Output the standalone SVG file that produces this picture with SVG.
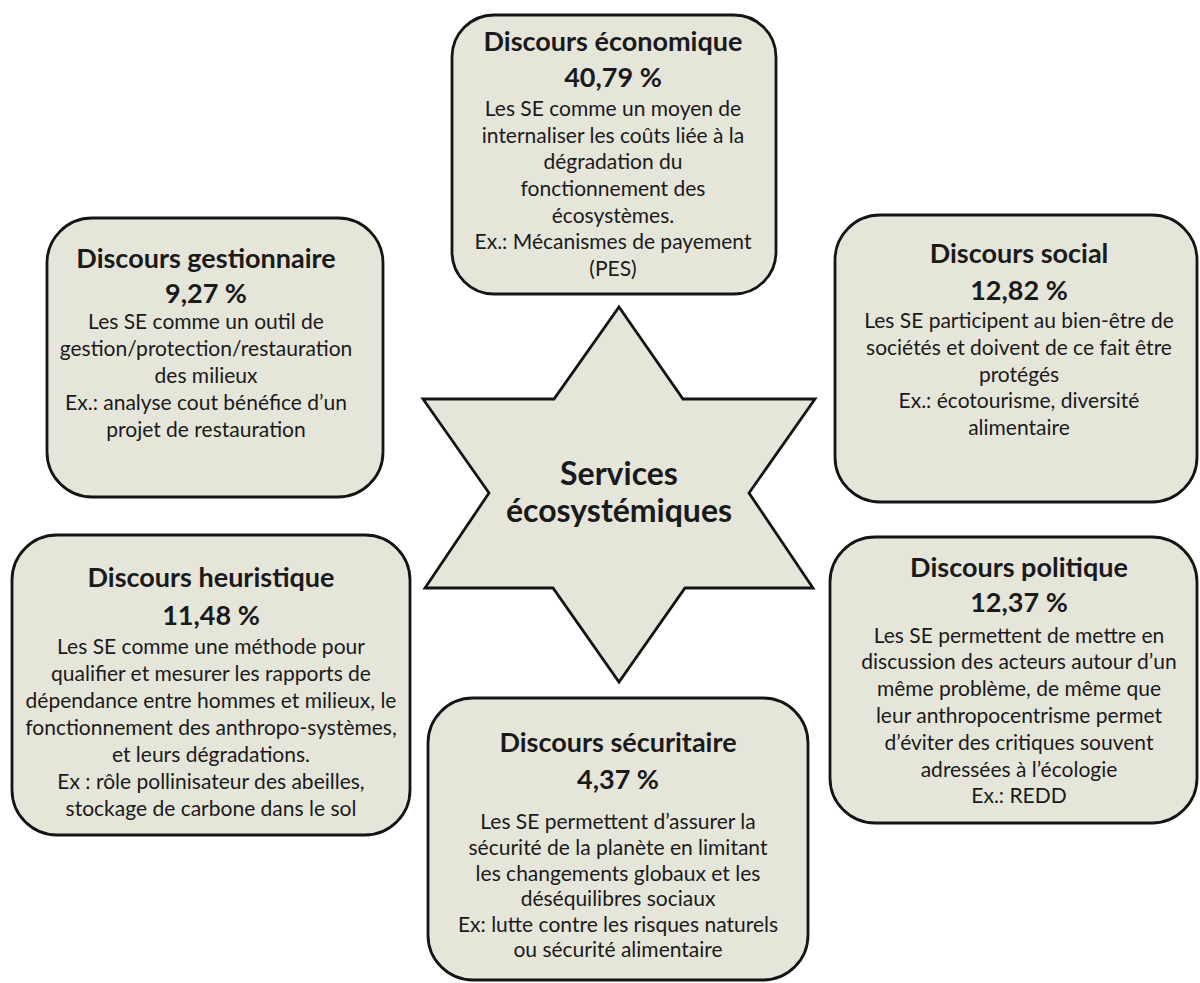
<svg xmlns="http://www.w3.org/2000/svg" width="1200" height="983" viewBox="0 0 1200 983">
<style>
.box{fill:#e6e5da;stroke:#141414;stroke-width:2.8}
.t{font-family:Lato,"Liberation Sans",sans-serif;fill:#1a1a1a;text-anchor:middle}
.h{font-weight:bold;font-size:27px}
.b{font-size:21px}
.c{font-weight:bold;font-size:32px}
</style>
<rect width="1200" height="983" fill="#ffffff"/>
<g id="connectors"></g>
<g id="center">
<polygon class="box" points="619,307 683,399 815,399 749,493 813,588 685,588 619,682 553,588 425,588 489,493 423,399 554,399"/>
<text class="t c" x="619" y="485">Services</text>
<text class="t c" x="619" y="522">écosystémiques</text>
</g>
<g id="economique">
<rect class="box" x="452" y="15" width="324" height="279" rx="42"/>
<text class="t h" x="613" y="51">Discours économique</text>
<text class="t h" x="613" y="87">40,79 %</text>
<text class="t b" x="613" y="116">Les SE comme un moyen de</text>
<text class="t b" x="613" y="143">internaliser les coûts liée à la</text>
<text class="t b" x="613" y="169">dégradation du</text>
<text class="t b" x="613" y="196">fonctionnement des</text>
<text class="t b" x="613" y="223">écosystèmes.</text>
<text class="t b" x="613" y="249">Ex.: Mécanismes de payement</text>
<text class="t b" x="613" y="276">(PES)</text>
</g>
<g id="gestionnaire">
<rect class="box" x="47" y="218" width="336" height="279" rx="45"/>
<text class="t h" x="206" y="268">Discours gestionnaire</text>
<text class="t h" x="206" y="303">9,27 %</text>
<text class="t b" x="206" y="329">Les SE comme un outil de</text>
<text class="t b" x="206" y="356">gestion/protection/restauration</text>
<text class="t b" x="206" y="383">des milieux</text>
<text class="t b" x="206" y="410">Ex.: analyse cout bénéfice d’un</text>
<text class="t b" x="206" y="437">projet de restauration</text>
</g>
<g id="social">
<rect class="box" x="835" y="215" width="362" height="287" rx="45"/>
<text class="t h" x="1019" y="263">Discours social</text>
<text class="t h" x="1019" y="300">12,82 %</text>
<text class="t b" x="1019" y="328">Les SE participent au bien-être de</text>
<text class="t b" x="1019" y="355">sociétés et doivent de ce fait être</text>
<text class="t b" x="1019" y="382">protégés</text>
<text class="t b" x="1019" y="408">Ex.: écotourisme, diversité</text>
<text class="t b" x="1019" y="435">alimentaire</text>
</g>
<g id="heuristique">
<rect class="box" x="12" y="535" width="398" height="300" rx="45"/>
<text class="t h" x="211" y="587">Discours heuristique</text>
<text class="t h" x="211" y="625">11,48 %</text>
<text class="t b" x="211" y="654">Les SE comme une méthode pour</text>
<text class="t b" x="211" y="681">qualifier et mesurer les rapports de</text>
<text class="t b" x="211" y="708">dépendance entre hommes et milieux, le</text>
<text class="t b" x="211" y="735">fonctionnement des anthropo-systèmes,</text>
<text class="t b" x="211" y="762">et leurs dégradations.</text>
<text class="t b" x="211" y="789">Ex : rôle pollinisateur des abeilles,</text>
<text class="t b" x="211" y="816">stockage de carbone dans le sol</text>
</g>
<g id="politique">
<rect class="box" x="830" y="537" width="367" height="286" rx="45"/>
<text class="t h" x="1019" y="577">Discours politique</text>
<text class="t h" x="1019" y="612">12,37 %</text>
<text class="t b" x="1019" y="643">Les SE permettent de mettre en</text>
<text class="t b" x="1019" y="669">discussion des acteurs autour d’un</text>
<text class="t b" x="1019" y="696">même problème, de même que</text>
<text class="t b" x="1019" y="723">leur anthropocentrisme permet</text>
<text class="t b" x="1019" y="750">d’éviter des critiques souvent</text>
<text class="t b" x="1019" y="777">adressées à l’écologie</text>
<text class="t b" x="1019" y="803">Ex.: REDD</text>
</g>
<g id="securitaire">
<rect class="box" x="428" y="698" width="380" height="282" rx="45"/>
<text class="t h" x="618" y="752">Discours sécuritaire</text>
<text class="t h" x="618" y="789">4,37 %</text>
<text class="t b" x="618" y="829">Les SE permettent d’assurer la</text>
<text class="t b" x="618" y="855">sécurité de la planète en limitant</text>
<text class="t b" x="618" y="881">les changements globaux et les</text>
<text class="t b" x="618" y="906">déséquilibres sociaux</text>
<text class="t b" x="618" y="932">Ex: lutte contre les risques naturels</text>
<text class="t b" x="618" y="957">ou sécurité alimentaire</text>
</g>
</svg>
